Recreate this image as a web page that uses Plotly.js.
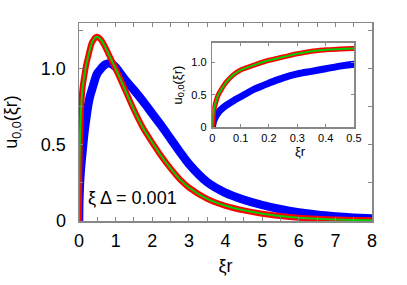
<!DOCTYPE html>
<html>
<head>
<meta charset="utf-8">
<script src="https://cdn.plot.ly/plotly-3.0.1.min.js"></script>
<style>html,body{margin:0;padding:0;background:#fff;}#chart{width:407px;height:285px;}</style>
</head>
<body>
<div id="chart"></div>
<script>
// xi*r sample points
const xr = [0, 0.005, 0.01, 0.02, 0.03, 0.05, 0.075, 0.1, 0.15, 0.2, 0.25, 0.3, 0.35, 0.4, 0.45, 0.5,
  0.6, 0.7, 0.8, 0.9, 1.0, 1.25, 1.5, 1.75, 2.0, 2.25, 2.5, 2.75, 3.0, 3.5, 4.0, 4.5, 5.0, 5.5,
  6.0, 6.5, 7.0, 7.5, 8.0];
// blue curve
const uBlue = [0, 0.10, 0.15, 0.22, 0.27, 0.34, 0.41, 0.47, 0.59, 0.68, 0.76, 0.82, 0.86, 0.90, 0.94, 0.97,
  1.00, 1.025, 1.035, 1.03, 1.01, 0.93, 0.86, 0.785, 0.705, 0.625, 0.54, 0.455, 0.375, 0.255, 0.185, 0.14, 0.105, 0.077,
  0.056, 0.041, 0.03, 0.022, 0.016];
// red curve
const uRed = [0, 0.25, 0.35, 0.49, 0.57, 0.70, 0.81, 0.88, 0.96, 1.03, 1.08, 1.13, 1.17, 1.19, 1.205, 1.21,
  1.19, 1.15, 1.10, 1.05, 1.0, 0.866, 0.73, 0.61, 0.515, 0.425, 0.345, 0.275, 0.22, 0.145, 0.10, 0.07, 0.048, 0.033,
  0.022, 0.015, 0.01, 0.007, 0.005];
// green curve (same as red)
const uGreen = uRed.slice();

const xTickVals = [0,1,2,3,4,5,6,7,8];
const xTickText = ["0","1","2","3","4","5","6","7","8"];
const yTickVals = [0,0.5,1.0];
const yTickText = ["0","0.5","1.0"];
const insetXTickVals = [0,0.1,0.2,0.3,0.4,0.5];
const insetXTickText = ["0","0.1","0.2","0.3","0.4","0.5"];
const insetYTickVals = [0,0.5,1.0];
const insetYTickText = ["0","0.5","1.0"];

const FONT = "Liberation Sans, Arial, sans-serif";
const AX = "#888888";

function trio(xa, ya, bw, rw, gw) {
  return [
    {x: xr, y: uBlue, xaxis: xa, yaxis: ya, mode: 'lines', line: {color: '#0000ff', width: bw, shape: 'spline', smoothing: 0.8}, showlegend: false, hoverinfo: 'skip'},
    {x: xr, y: uRed, xaxis: xa, yaxis: ya, mode: 'lines', line: {color: '#ff0000', width: rw, shape: 'spline', smoothing: 0.8}, showlegend: false, hoverinfo: 'skip'},
    {x: xr, y: uGreen, xaxis: xa, yaxis: ya, mode: 'lines', line: {color: '#00d000', width: gw, shape: 'spline', smoothing: 0.8}, showlegend: false, hoverinfo: 'skip'}
  ];
}

const data = trio('x', 'y', 8.5, 6, 2).concat(trio('x2', 'y2', 7, 5, 2));

const layout = {
  width: 407, height: 285,
  margin: {l: 79, r: 35, t: 23, b: 64},
  paper_bgcolor: '#fff', plot_bgcolor: 'rgba(0,0,0,0)',
  font: {family: FONT, color: '#000'},
  xaxis: {
    range: [0, 8], tickvals: xTickVals, ticktext: xTickText,
    ticks: 'inside', ticklen: 4, tickcolor: AX, showline: true, linecolor: AX, linewidth: 1.5,
    minor: {dtick: 0.5, tick0: 0, ticks: 'inside', ticklen: 4, tickcolor: AX, showgrid: false},
    mirror: 'allticks', showgrid: false, zeroline: false, ticklabelstandoff: 3,
    tickfont: {size: 18, family: FONT},
    title: {text: 'ξr', font: {size: 18, family: FONT}, standoff: 9}
  },
  yaxis: {
    range: [0, 1.3], tickvals: yTickVals, ticktext: yTickText,
    ticks: 'inside', ticklen: 4, tickcolor: AX, showline: true, linecolor: AX, linewidth: 1.5,
    minor: {dtick: 0.25, tick0: 0, ticks: 'inside', ticklen: 4, tickcolor: AX, showgrid: false},
    mirror: 'allticks', showgrid: false, zeroline: false, ticklabelstandoff: 8,
    tickfont: {size: 18, family: FONT},
    title: {text: 'u<sub>0,0</sub>(ξr)', font: {size: 18, family: FONT}, standoff: 18}
  },
  xaxis2: {
    domain: [0.455, 0.9386], anchor: 'y2',
    range: [0, 0.5], tickvals: insetXTickVals, ticktext: insetXTickText,
    ticks: 'inside', ticklen: 3, tickcolor: AX, showline: true, linecolor: AX, linewidth: 1.5,
    mirror: 'allticks', showgrid: false, zeroline: false,
    tickfont: {size: 11, family: FONT}
  },
  yaxis2: {
    domain: [0.473, 0.9005], anchor: 'x2',
    range: [0, 1.3], tickvals: insetYTickVals, ticktext: insetYTickText,
    ticks: 'inside', ticklen: 3, tickcolor: AX, showline: true, linecolor: AX, linewidth: 1.5,
    mirror: 'allticks', showgrid: false, zeroline: false, ticklabelstandoff: 2,
    tickfont: {size: 11, family: FONT},
    title: {text: 'u<sub>0,0</sub>(ξr)', font: {size: 13, family: FONT}, standoff: 6}
  },
  annotations: [{
    xref: 'x', yref: 'y', x: 0.2, y: 0.15, xanchor: 'left', yanchor: 'middle',
    text: 'ξ Δ = 0.001', showarrow: false, font: {size: 18, family: FONT, color: '#000'}
  }, {
    xref: 'x2', yref: 'paper', x: 0.31, y: 0.352, xanchor: 'center', yanchor: 'middle',
    text: 'ξr', showarrow: false, font: {size: 13, family: FONT, color: '#000'}
  }]
};

Plotly.newPlot('chart', data, layout, {staticPlot: true, displayModeBar: false});
</script>
</body>
</html>
